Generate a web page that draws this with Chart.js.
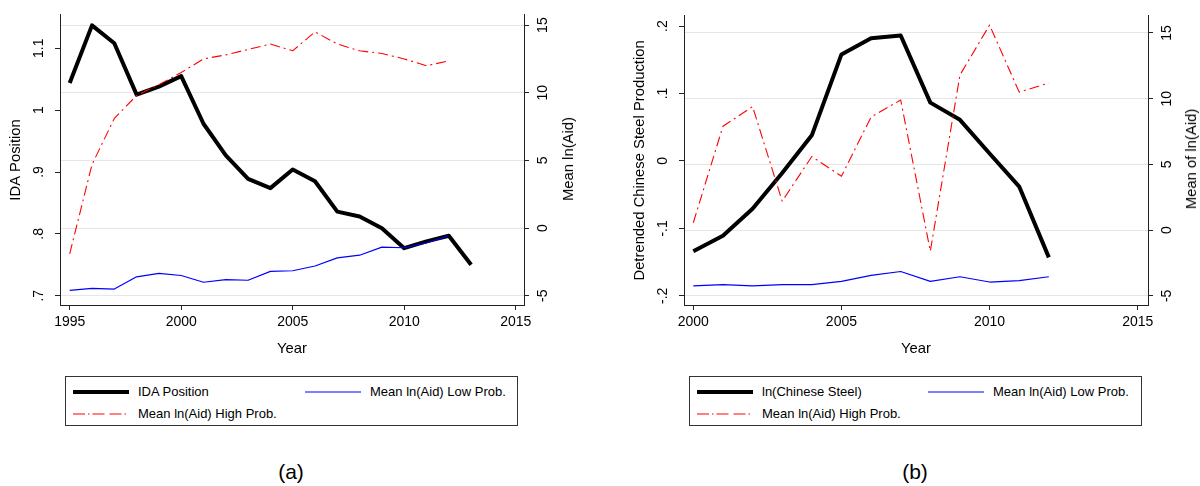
<!DOCTYPE html>
<html>
<head>
<meta charset="utf-8">
<script src="https://cdn.jsdelivr.net/npm/chart.js@4.4.0/dist/chart.umd.min.js"></script>
<style>
  html, body { margin: 0; padding: 0; background: #fff; }
  body { width: 1200px; height: 486px; position: relative; overflow: hidden; font-family: "Liberation Sans", Arial, sans-serif; color: #000; }
  canvas { position: absolute; top: 0; }
  .rtitle { position: absolute; white-space: nowrap; font-size: 14.8px; transform: translate(-50%, -50%) rotate(-90deg); }
  .legend { position: absolute; top: 376px; height: 50px; border: 1px solid #333; box-sizing: border-box; font-size: 13px; }
  .item { position: absolute; height: 16px; line-height: 16px; white-space: nowrap; }
  .item svg { position: absolute; top: 3px; left: 0; }
  .item span { position: absolute; top: 0; }
  .caption { position: absolute; top: 472px; font-size: 21px; transform: translate(-50%, -50%); }
</style>
</head>
<body>
<canvas id="cA" width="600" height="365" style="left:0px"></canvas>
<canvas id="cB" width="600" height="365" style="left:600px"></canvas>

<div class="rtitle" style="left:568px; top:158.5px;">Mean ln(Aid)</div>
<div class="rtitle" style="left:1191px; top:158.5px;">Mean of ln(Aid)</div>

<div class="legend" style="left:65px; width:453px;">
  <div class="item" style="left:6px; top:7px;"><svg width="58" height="10"><line x1="1" y1="5" x2="57" y2="5" stroke="#000" stroke-width="4"/></svg><span style="left:66px">IDA Position</span></div>
  <div class="item" style="left:238px; top:7px;"><svg width="58" height="10"><line x1="1" y1="5" x2="57" y2="5" stroke="#0000ff" stroke-width="1.2"/></svg><span style="left:66px">Mean ln(Aid) Low Prob.</span></div>
  <div class="item" style="left:6px; top:29px;"><svg width="58" height="10"><line x1="1" y1="5" x2="57" y2="5" stroke="#ff0000" stroke-width="1.1" stroke-dasharray="12,3,1.5,3,12,5"/></svg><span style="left:66px">Mean ln(Aid) High Prob.</span></div>
</div>

<div class="legend" style="left:689px; width:453px;">
  <div class="item" style="left:6px; top:7px;"><svg width="58" height="10"><line x1="1" y1="5" x2="57" y2="5" stroke="#000" stroke-width="4"/></svg><span style="left:66px">ln(Chinese Steel)</span></div>
  <div class="item" style="left:237px; top:7px;"><svg width="58" height="10"><line x1="1" y1="5" x2="57" y2="5" stroke="#0000ff" stroke-width="1.2"/></svg><span style="left:66px">Mean ln(Aid) Low Prob.</span></div>
  <div class="item" style="left:6px; top:29px;"><svg width="58" height="10"><line x1="1" y1="5" x2="57" y2="5" stroke="#ff0000" stroke-width="1.1" stroke-dasharray="12,3,1.5,3,12,5"/></svg><span style="left:66px">Mean ln(Aid) High Prob.</span></div>
</div>

<div class="caption" style="left:291px;">(a)</div>
<div class="caption" style="left:915px;">(b)</div>

<script>
// ---------- Data: panel (a) ----------
const yearsA = [1995,1996,1997,1998,1999,2000,2001,2002,2003,2004,2005,2006,2007,2008,2009,2010,2011,2012,2013];
const idaPosition = [1.044,1.137,1.108,1.025,1.038,1.055,0.978,0.927,0.889,0.874,0.904,0.885,0.836,0.828,0.809,0.777,0.788,0.797,0.750];
const lowProbA  = [-4.6,-4.45,-4.5,-3.6,-3.35,-3.5,-4.0,-3.8,-3.85,-3.2,-3.15,-2.8,-2.2,-2.0,-1.4,-1.45,-1.1,-0.56];
const highProbA = [-1.9,4.7,8.1,9.8,10.6,11.5,12.5,12.8,13.2,13.6,13.1,14.5,13.6,13.1,12.9,12.5,12.0,12.35];

// ---------- Data: panel (b) ----------
const yearsB = [2000,2001,2002,2003,2004,2005,2006,2007,2008,2009,2010,2011,2012];
const chineseSteel = [-0.134,-0.111,-0.071,-0.018,0.038,0.158,0.182,0.186,0.0865,0.061,0.011,-0.038,-0.143];
const lowProbB  = [-4.25,-4.15,-4.25,-4.15,-4.15,-3.9,-3.45,-3.15,-3.9,-3.55,-3.95,-3.85,-3.55];
const highProbB = [0.56,7.9,9.4,2.2,5.6,4.1,8.6,9.9,-1.6,11.8,15.6,10.5,11.2];

// ---------- Tick values ----------
const yearTicksA = [1995,2000,2005,2010,2015];
const yearTicksB = [2000,2005,2010,2015];
const idaTicks   = [0.7,0.8,0.9,1,1.1];
const steelTicks = [-0.2,-0.1,0,0.1,0.2];
const aidTicks   = [-5,0,5,10,15];

// Stata-style number labels (".7", "-.1", "1.1")
function stataFmt(v) {
  return String(+Number(v).toFixed(3)).replace(/^(-?)0\./, '$1.');
}
function pts(xs, ys) { return ys.map((y, i) => ({ x: xs[i], y: y })); }
function fixedTicks(arr) { return function (s) { s.ticks = arr.map(v => ({ value: v })); }; }

const FONT = "'Liberation Sans', Arial, sans-serif";
const tickFont = { family: FONT, size: 14 };
const titleFont = { family: FONT, size: 14.8 };
const AXIS = '#222';
const GRID = '#e6e6e6';

function lineDatasets(xs, main, mainLabel, low, high) {
  return [
    { label: mainLabel, data: pts(xs, main), yAxisID: 'yL', borderColor: '#000', borderWidth: 4, order: 3 },
    { label: 'Mean ln(Aid) Low Prob.', data: pts(xs, low), yAxisID: 'yR', borderColor: '#0000ff', borderWidth: 1.2, order: 2 },
    { label: 'Mean ln(Aid) High Prob.', data: pts(xs, high), yAxisID: 'yR', borderColor: '#ff0000', borderWidth: 1.1, borderDash: [10, 4, 2, 4], order: 1 }
  ];
}

function buildOptions(o) {
  return {
    responsive: false,
    animation: false,
    devicePixelRatio: 1,
    layout: { padding: { top: 12, left: 0, right: 0, bottom: 0 } },
    elements: {
      point: { radius: 0, hoverRadius: 0 },
      line: { tension: 0, borderJoinStyle: 'round', borderCapStyle: 'butt', fill: false }
    },
    plugins: { legend: { display: false }, tooltip: { enabled: false } },
    events: [],
    scales: {
      x: {
        type: 'linear', position: 'bottom', min: o.xMin, max: o.xMax,
        afterBuildTicks: fixedTicks(o.xTicks),
        afterFit: s => { s.height = 60; },
        grid: { drawOnChartArea: false, tickLength: 5, tickColor: AXIS },
        border: { color: AXIS, width: 1 },
        ticks: { font: tickFont, color: '#000', padding: 4, maxRotation: 0, minRotation: 0, autoSkip: false, callback: v => String(v) },
        title: { display: true, text: 'Year', font: titleFont, color: '#000', padding: { top: 0, bottom: 7 } }
      },
      yL: {
        type: 'linear', position: 'left', min: o.lMin, max: o.lMax,
        afterBuildTicks: fixedTicks(o.lTicks),
        afterFit: s => { s.width = o.leftW; },
        grid: { drawOnChartArea: false, tickLength: 5, tickColor: AXIS },
        border: { color: AXIS, width: 1 },
        ticks: { font: tickFont, color: '#000', padding: o.lPad, minRotation: 90, maxRotation: 90, crossAlign: 'center', autoSkip: false, callback: v => stataFmt(v) },
        title: { display: true, text: o.lTitle, font: titleFont, color: '#000', padding: { top: o.lTitlePad, bottom: 0 } }
      },
      yR: {
        type: 'linear', position: 'right', min: o.rMin, max: o.rMax,
        afterBuildTicks: fixedTicks(aidTicks),
        afterFit: s => { s.width = o.rightW; },
        grid: { color: GRID, lineWidth: 1, tickLength: 5, tickColor: AXIS },
        border: { color: AXIS, width: 1 },
        ticks: { font: tickFont, color: '#000', padding: 6.5, minRotation: 90, maxRotation: 90, crossAlign: 'center', autoSkip: false, callback: v => stataFmt(v) }
      }
    }
  };
}

new Chart(document.getElementById('cA'), {
  type: 'line',
  data: { datasets: lineDatasets(yearsA, idaPosition, 'IDA Position', lowProbA, highProbA) },
  options: buildOptions({
    xMin: 1994.565, xMax: 2015.372, xTicks: yearTicksA,
    lMin: 0.6851, lMax: 1.1539, lTicks: idaTicks, leftW: 60, lPad: 6, lTitle: 'IDA Position', lTitlePad: 7,
    rMin: -5.680, rMax: 15.753, rightW: 76
  })
});

new Chart(document.getElementById('cB'), {
  type: 'line',
  data: { datasets: lineDatasets(yearsB, chineseSteel, 'ln(Chinese Steel)', lowProbB, highProbB) },
  options: buildOptions({
    xMin: 1999.686, xMax: 2015.347, xTicks: yearTicksB,
    lMin: -0.2136, lMax: 0.2151, lTicks: steelTicks, leftW: 84, lPad: 7.5, lTitle: 'Detrended Chinese Steel Production', lTitlePad: 31,
    rMin: -5.698, rMax: 16.299, rightW: 52
  })
});
</script>
</body>
</html>
